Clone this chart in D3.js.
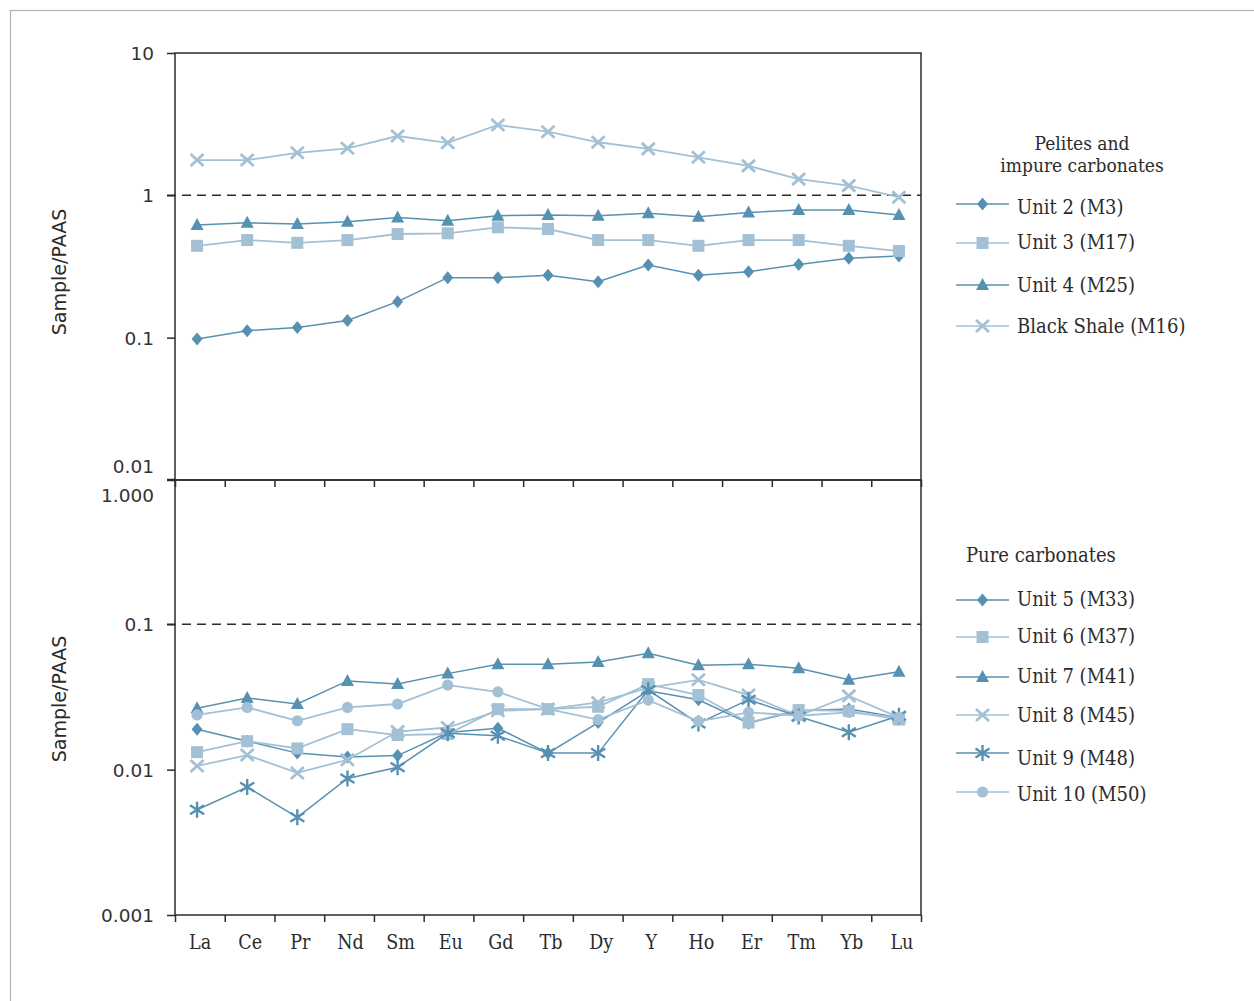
<!DOCTYPE html>
<html><head><meta charset="utf-8">
<script src="https://cdn.jsdelivr.net/npm/d3@7"></script>
<style>body{margin:0;background:#fff}</style>
</head><body><svg id="c" width="1254" height="1001"></svg>
<script>
// ---------- DATA ----------
const categories = ["La","Ce","Pr","Nd","Sm","Eu","Gd","Tb","Dy","Y","Ho","Er","Tm","Yb","Lu"];

// Top panel: Pelites and impure carbonates
const unit2 = [0.098,0.112,0.118,0.132,0.179,0.264,0.264,0.275,0.247,0.324,0.275,0.290,0.327,0.361,0.375];
const unit3 = [0.442,0.485,0.464,0.485,0.535,0.541,0.596,0.580,0.485,0.485,0.442,0.485,0.485,0.442,0.406];
const unit4 = [0.618,0.642,0.628,0.653,0.700,0.663,0.719,0.727,0.719,0.747,0.707,0.759,0.788,0.788,0.727];
const blackShale = [1.77,1.77,1.99,2.14,2.61,2.34,3.12,2.80,2.36,2.12,1.85,1.61,1.30,1.17,0.97];

// Bottom panel: Pure carbonates
const unit5 = [0.0190,0.0157,0.0130,0.0122,0.0125,0.0180,0.0193,0.0130,0.0211,0.0349,0.0303,0.0209,0.0254,0.0261,0.0229];
const unit6 = [0.0132,0.0157,0.0140,0.0190,0.0173,0.0176,0.0261,0.0261,0.0271,0.0388,0.0326,0.0211,0.0257,0.0254,0.0221];
const unit7 = [0.0265,0.0311,0.0283,0.0408,0.0388,0.0458,0.0532,0.0532,0.0551,0.0633,0.0523,0.0532,0.0499,0.0415,0.0471];
const unit8 = [0.0106,0.0126,0.0095,0.0117,0.0183,0.0195,0.0254,0.0261,0.0290,0.0366,0.0415,0.0326,0.0235,0.0322,0.0229];
const unit9 = [0.0053,0.0076,0.0047,0.0087,0.0104,0.0178,0.0171,0.0130,0.0130,0.0353,0.0208,0.0303,0.0232,0.0181,0.0235];
const unit10 = [0.0238,0.0268,0.0217,0.0268,0.0283,0.0382,0.0343,0.0261,0.0221,0.0301,0.0215,0.0248,0.0235,0.0248,0.0229];

const topTickValues = [0.01, 0.1, 1, 10];
const topTickLabels = ["0.01", "0.1", "1", "10"];
const bottomTickValues = [0.001, 0.01, 0.1, 1];
const bottomTickLabels = ["0.001", "0.01", "0.1", "1.000"];
const topRefValue = 1;
const bottomRefValue = 0.1;

const yTitle = "Sample/PAAS";
const topLegendTitle = ["Pelites and", "impure carbonates"];
const bottomLegendTitle = "Pure carbonates";
const topNames = ["Unit 2 (M3)", "Unit 3 (M17)", "Unit 4 (M25)", "Black Shale (M16)"];
const bottomNames = ["Unit 5 (M33)", "Unit 6 (M37)", "Unit 7 (M41)", "Unit 8 (M45)", "Unit 9 (M48)", "Unit 10 (M50)"];

// ---------- STYLE ----------
const DARK = "#5791b2";
const LIGHT = "#a3c0d5";
const AX = "#2b2b2b";
const SERIF = "'DejaVu Serif Condensed','DejaVu Serif',serif";
const SANS = "'DejaVu Sans',sans-serif";

const topSeries = [
  {name: topNames[0], values: unit2, sym: "diamond", color: DARK},
  {name: topNames[1], values: unit3, sym: "square", color: LIGHT},
  {name: topNames[2], values: unit4, sym: "triangle", color: DARK},
  {name: topNames[3], values: blackShale, sym: "x", color: LIGHT}
];
const bottomSeries = [
  {name: bottomNames[0], values: unit5, sym: "diamond", color: DARK},
  {name: bottomNames[1], values: unit6, sym: "square", color: LIGHT},
  {name: bottomNames[2], values: unit7, sym: "triangle", color: DARK},
  {name: bottomNames[3], values: unit8, sym: "x", color: LIGHT},
  {name: bottomNames[4], values: unit9, sym: "asterisk", color: DARK},
  {name: bottomNames[5], values: unit10, sym: "circle", color: LIGHT}
];

const svg = d3.select("#c");
svg.append("rect").attr("x",10.5).attr("y",10.5).attr("width",1260).attr("height",1010)
  .attr("fill","none").attr("stroke","#b0b0b0").attr("stroke-width",1.2);

const L = 175, R = 921;
const x = d3.scalePoint().domain(categories).range([L, R]).padding(0.44);
const xEdge = d3.scaleLinear().domain([0, categories.length]).range([L, R]);
const yTop = d3.scaleLog().domain([0.01, 10]).range([480, 53]);
const yBot = d3.scaleLog().domain([0.001, 1]).range([915, 479]);

function marker(g, sym, color, cx, cy) {
  const m = g.append("g").attr("transform", `translate(${cx},${cy})`);
  if (sym === "diamond") {
    m.append("path").attr("d","M0,-6.5L5.5,0L0,6.5L-5.5,0Z").attr("fill", color);
  } else if (sym === "square") {
    m.append("rect").attr("x",-6).attr("y",-6).attr("width",12).attr("height",12).attr("fill", color);
  } else if (sym === "triangle") {
    m.append("path").attr("d","M0,-7L6.5,5L-6.5,5Z").attr("fill", color);
  } else if (sym === "x") {
    m.append("path").attr("d","M-6.5,-6L6.5,6M-6.5,6L6.5,-6").attr("stroke", color).attr("stroke-width", 2.8).attr("fill","none");
  } else if (sym === "asterisk") {
    m.append("path").attr("d","M0,-8L0,8M-7,-4.5L7,4.5M-7,4.5L7,-4.5").attr("stroke", color).attr("stroke-width", 2.4).attr("fill","none");
  } else if (sym === "circle") {
    m.append("circle").attr("r", 5.6).attr("fill", color);
  }
}

function panel(y, tickVals, tickLabels, series, refVal, top, bottom, labelShift, showCats) {
  const g = svg.append("g");
  g.append("line").attr("x1", L - 8).attr("x2", R).attr("y1", y(refVal)).attr("y2", y(refVal))
    .attr("stroke", AX).attr("stroke-width", 1.5).attr("stroke-dasharray", "9,6");
  const ya = g.append("g").attr("transform", `translate(${L},0)`)
    .call(d3.axisLeft(y).tickValues(tickVals).tickSize(8).tickPadding(13)
      .tickFormat((d, i) => tickLabels[i]));
  ya.select(".domain").remove();
  ya.selectAll("line").attr("stroke", AX).attr("stroke-width", 1.5);
  ya.selectAll("text").attr("font-family", SANS).attr("font-size", 18.5).attr("fill", "#333")
    .attr("dy", null).attr("dominant-baseline", "central")
    .attr("y", (d) => labelShift[d] || 0);
  const xa = g.append("g").attr("transform", `translate(0,${bottom})`)
    .call(d3.axisBottom(xEdge).tickValues(d3.range(categories.length + 1)).tickSize(7).tickFormat(""));
  xa.select(".domain").remove();
  xa.selectAll("line").attr("stroke", AX).attr("stroke-width", 1.5);
  if (showCats) {
    const ca = g.append("g").attr("transform", `translate(2.5,${bottom})`)
      .call(d3.axisBottom(x).tickSize(0).tickPadding(20));
    ca.select(".domain").remove();
    ca.selectAll("text").attr("font-family", SERIF).attr("font-size", 19.5).attr("fill", "#2b2b2b");
  }
  g.append("rect").attr("x", L).attr("y", top).attr("width", R - L).attr("height", bottom - top)
    .attr("fill", "none").attr("stroke", AX).attr("stroke-width", 1.5);
  const line = d3.line().x((d, i) => x(categories[i])).y((d) => y(d));
  series.forEach((s) => {
    g.append("path").attr("d", line(s.values)).attr("fill", "none")
      .attr("stroke", s.color).attr("stroke-width", s.color === LIGHT ? 1.8 : 1.5);
    s.values.forEach((v, i) => marker(g, s.sym, s.color, x(categories[i]), y(v)));
  });
}

panel(yTop, topTickValues, topTickLabels, topSeries, topRefValue, 53, 480, {0.01: -14}, false);
panel(yBot, bottomTickValues, bottomTickLabels, bottomSeries, bottomRefValue, 480, 915, {1: 16}, true);

[272, 699].forEach((cy) => {
  svg.append("text").attr("transform", `translate(59,${cy}) rotate(-90)`)
    .attr("text-anchor", "middle").attr("dominant-baseline", "central")
    .attr("font-family", SANS).attr("font-size", 19).attr("fill", "#2b2b2b").text(yTitle);
});

function legend(entries, lineYs, textYs) {
  entries.forEach((s, i) => {
    const g = svg.append("g");
    g.append("line").attr("x1", 956).attr("x2", 1009).attr("y1", lineYs[i]).attr("y2", lineYs[i])
      .attr("stroke", s.color).attr("stroke-width", 1.6);
    marker(g, s.sym, s.color, 982.5, lineYs[i]);
    g.append("text").attr("x", 1017).attr("y", textYs[i]).attr("dominant-baseline", "central")
      .attr("font-family", SERIF).attr("font-size", 20).attr("fill", "#2b2b2b").text(s.name);
  });
}
topLegendTitle.forEach((t, i) => {
  svg.append("text").attr("x", 1082).attr("y", 143 + i * 22).attr("text-anchor", "middle")
    .attr("dominant-baseline", "central").attr("font-family", SERIF).attr("font-size", 19)
    .attr("fill", "#2b2b2b").text(t);
});
svg.append("text").attr("x", 966).attr("y", 555).attr("dominant-baseline", "central")
  .attr("font-family", SERIF).attr("font-size", 20).attr("fill", "#2b2b2b").text(bottomLegendTitle);
legend(topSeries, [204, 243, 285, 326], [207, 242, 285, 326]);
legend(bottomSeries, [600, 637, 677, 715, 753, 792], [599, 636, 676, 715, 758, 794]);
</script></body></html>
